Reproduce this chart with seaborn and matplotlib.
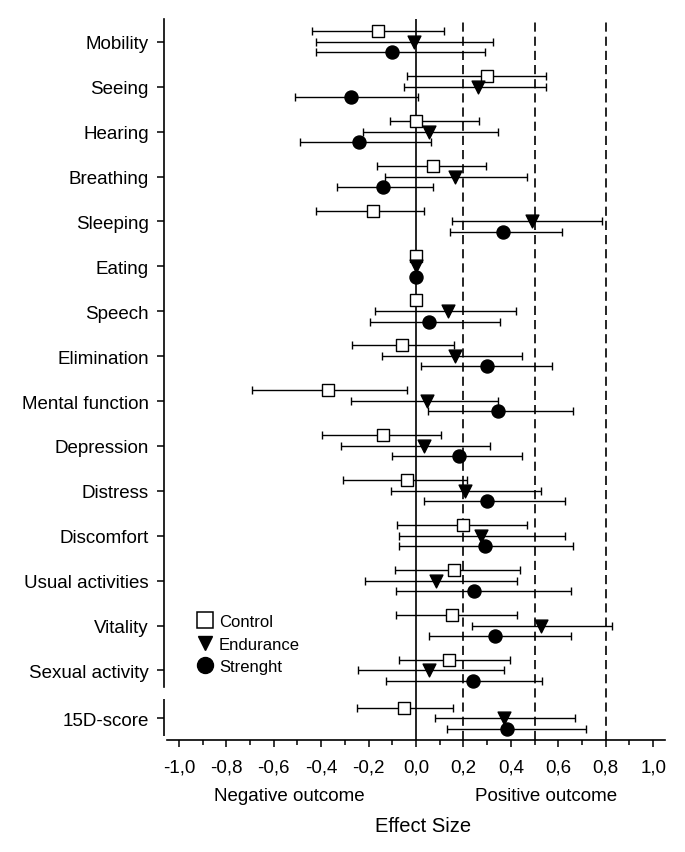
import numpy as np
import pandas as pd
import seaborn as sns
import matplotlib.pyplot as plt
from matplotlib.lines import Line2D

categories = ["Mobility", "Seeing", "Hearing", "Breathing", "Sleeping", "Eating",
              "Speech", "Elimination", "Mental function", "Depression", "Distress",
              "Discomfort", "Usual activities", "Vitality", "Sexual activity", "15D-score"]

# effect size and 95% CI per group (nan = no interval drawn)
ctrl_es = [-0.16, 0.30, 0.00, 0.07, -0.18, 0.00, 0.00, -0.06, -0.37, -0.14, -0.04, 0.20, 0.16, 0.15, 0.14, -0.05]
ctrl_lo = [-0.44, -0.04, -0.11, -0.165, -0.42, np.nan, np.nan, -0.27, -0.69, -0.395, -0.31, -0.08, -0.09, -0.085, -0.07, -0.25]
ctrl_hi = [0.12, 0.55, 0.265, 0.295, 0.035, np.nan, np.nan, 0.16, -0.04, 0.105, 0.215, 0.47, 0.44, 0.425, 0.395, 0.155]

end_es = [-0.01, 0.26, 0.055, 0.165, 0.49, 0.00, 0.135, 0.165, 0.045, 0.035, 0.205, 0.275, 0.085, 0.525, 0.055, 0.37]
end_lo = [-0.42, -0.05, -0.225, -0.13, 0.15, np.nan, -0.175, -0.145, -0.275, -0.315, -0.105, -0.07, -0.215, 0.235, -0.245, 0.08]
end_hi = [0.325, 0.55, 0.345, 0.47, 0.785, np.nan, 0.42, 0.445, 0.345, 0.31, 0.525, 0.63, 0.425, 0.825, 0.37, 0.67]

str_es = [-0.10, -0.275, -0.24, -0.14, 0.365, 0.00, 0.055, 0.30, 0.345, 0.18, 0.30, 0.29, 0.245, 0.335, 0.24, 0.385]
str_lo = [-0.42, -0.51, -0.49, -0.335, 0.145, np.nan, -0.195, 0.02, 0.05, -0.10, 0.035, -0.07, -0.085, 0.055, -0.125, 0.13]
str_hi = [0.29, 0.01, 0.065, 0.07, 0.615, np.nan, 0.355, 0.575, 0.66, 0.445, 0.63, 0.66, 0.655, 0.655, 0.53, 0.715]

group_names = ["Control", "Endurance", "Strenght"]

sns.set_style("ticks", {"axes.edgecolor": "black", "xtick.color": "black",
                        "ytick.color": "black", "text.color": "black",
                        "axes.labelcolor": "black"})
plt.rcParams['font.family'] = ['Liberation Sans', 'DejaVu Sans']

W, H = 685, 853
fig = plt.figure(figsize=(W / 100, H / 100), dpi=100)
ax = fig.add_axes([164 / W, 112 / H, 501 / W, 721 / H])

ypos = np.arange(len(categories), dtype=float)
ypos[-1] += 0.07

groups = [
    (ctrl_es, ctrl_lo, ctrl_hi, -0.24, "s", "white", 68),
    (end_es, end_lo, end_hi, 0.0, "v", "black", 85),
    (str_es, str_lo, str_hi, 0.23, "o", "black", 88),
]

# reference lines
ax.axvline(0, color="black", lw=1.2, zorder=1)
for v in (0.2, 0.5, 0.8):
    ax.axvline(v, color="black", lw=1.2, ls=(0, (5.5, 3)), zorder=1)

for name, (es, lo, hi, off, mk, fc, s) in zip(group_names, groups):
    df = pd.DataFrame({"es": es, "lo": lo, "hi": hi, "y": ypos + off})
    ci = df.dropna()
    ax.errorbar(ci["es"], ci["y"], xerr=[ci["es"] - ci["lo"], ci["hi"] - ci["es"]],
                fmt="none", ecolor="black", elinewidth=1.0, capsize=3, capthick=1.0, zorder=2)
    sns.scatterplot(data=df, x="es", y="y", marker=mk, s=s, color=fc,
                    edgecolor="black", linewidth=1.0, ax=ax, zorder=3)

ax.set_xlabel("")
ax.set_ylabel("")
ax.set_xlim(-1.063, 1.05)
ax.set_ylim(15.55, -0.51)

ticks = np.round(np.arange(-1.0, 1.01, 0.2), 1)
ax.set_xticks(ticks, [f"{t:.1f}".replace(".", ",").replace("-0,0", "0,0") for t in ticks])
ax.set_xticks(np.round(np.arange(-0.9, 1.0, 0.2), 1), minor=True)
ax.set_yticks(ypos, categories)
ax.tick_params(axis="x", which="major", length=5, width=1.1, pad=8, labelsize=13.5)
ax.tick_params(axis="x", which="minor", length=3.5, width=1.1)
ax.tick_params(axis="y", length=5, width=1.1, pad=6, labelsize=13.5)

ax.spines[["top", "right"]].set_visible(False)
for sp in ("left", "bottom"):
    ax.spines[sp].set_linewidth(1.2)
ax.spines["left"].set_bounds(-0.51, 14.37)
ax.spines["bottom"].set_bounds(-1.05, 1.05)
ax.plot([-1.063, -1.063], [14.63, 15.46], color="black", lw=1.2, clip_on=False,
        solid_capstyle="butt")

handles = [
    Line2D([], [], ls="", marker="s", ms=11, mfc="white", mec="black", mew=1.1),
    Line2D([], [], ls="", marker="v", ms=10, mfc="black", mec="black"),
    Line2D([], [], ls="", marker="o", ms=11.5, mfc="black", mec="black"),
]
ax.legend(handles, group_names, loc="center left", bbox_to_anchor=(0.052, 0.133),
          frameon=False, fontsize=12, handlelength=1.0, handletextpad=0.34,
          labelspacing=0.45, borderaxespad=0, borderpad=0.4)

fig.text(289 / W, 1 - 797 / H, "Negative outcome", ha="center", va="center", fontsize=13.5)
fig.text(546 / W, 1 - 797 / H, "Positive outcome", ha="center", va="center", fontsize=13.5)
fig.text(423 / W, 1 - 827 / H, "Effect Size", ha="center", va="center", fontsize=14.5)

fig.savefig("out.png", dpi=100)
